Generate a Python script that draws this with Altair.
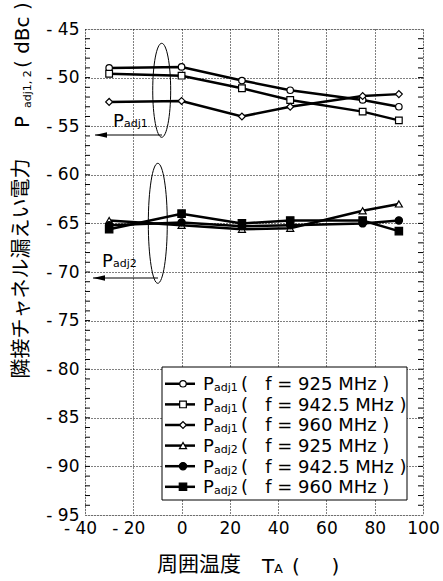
import altair as alt
import pandas as pd

# ---------------- data ----------------
temps = [-30, 0, 25, 45, 75, 90]
series_names = ["Padj1 925", "Padj1 942.5", "Padj1 960",
                "Padj2 925", "Padj2 942.5", "Padj2 960"]
adj1_925 = [-49.0, -48.9, -50.3, -51.3, -52.3, -53.0]
adj1_9425 = [-49.6, -49.8, -51.1, -52.3, -53.5, -54.4]
adj1_960 = [-52.5, -52.4, -54.0, -53.0, -51.9, -51.7]
adj2_925 = [-64.7, -65.2, -65.6, -65.5, -63.7, -63.0]
adj2_9425 = [-65.2, -64.9, -65.3, -65.2, -65.0, -64.7]
adj2_960 = [-65.6, -64.0, -65.0, -64.7, -64.7, -65.8]
all_values = [adj1_925, adj1_9425, adj1_960, adj2_925, adj2_9425, adj2_960]

NB = "\u00a0"
legend_sub = ["adj1", "adj1", "adj1", "adj2", "adj2", "adj2"]
legend_freq = ["925", "942.5", "960", "925", "942.5", "960"]
legend_rest = [f"({NB}{NB}{NB}f = {f} MHz{NB})" for f in legend_freq]

x_ticks = [-40, -20, 0, 20, 40, 60, 80, 100]
y_ticks = [-95, -90, -85, -80, -75, -70, -65, -60, -55, -50, -45]
minor_y = list(range(-94, -45))

rows = []
for name, vals in zip(series_names, all_values):
    for t, v in zip(temps, vals):
        rows.append({"temp": t, "value": v, "series": name})
df = pd.DataFrame(rows)

# legend table (rows laid out along the y scale)
leg_df = pd.DataFrame({
    "series": series_names,
    "sub": legend_sub,
    "rest": legend_rest,
    "ly": [-81.5 - 2.12 * i for i in range(len(series_names))],
})
tick_df = pd.DataFrame({"v": minor_y})
one = pd.DataFrame({"k": [0]})

# ---------------- styling ----------------
W, H = 338, 486
NUM_FONT = "DejaVu Sans"
CJK_FONT = "Noto Sans CJK JP"

x_scale = alt.Scale(domain=[-40, 100], nice=False, zero=False)
y_scale = alt.Scale(domain=[-95, -45], nice=False, zero=False)

x_axis = alt.Axis(values=x_ticks, title=None, grid=True, gridDash=[1, 2],
                  gridColor="#000", gridWidth=1, ticks=False, domain=False,
                  labelFont=NUM_FONT, labelFontSize=17, labelColor="black",
                  labelPadding=5, labelFlush=False, labelOverlap=False,
                  labelExpr="datum.value < 0 ? '- ' + abs(datum.value) : datum.label",
                  labelOffset={"condition": {"test": "datum.value < 0", "value": -5}, "value": 0})
y_axis = alt.Axis(values=y_ticks, title=None, grid=True, gridDash=[1, 2],
                  gridColor="#000", gridWidth=1, ticks=False, domain=False,
                  labelFont=NUM_FONT, labelFontSize=17, labelColor="black",
                  labelPadding=6, labelFlush=False, labelOverlap=False,
                  labelExpr="'- ' + abs(datum.value)")


def X(field):
    return alt.X(field, type="quantitative", scale=x_scale, axis=x_axis)


def Y(field):
    return alt.Y(field, type="quantitative", scale=y_scale, axis=y_axis)


shape_enc = alt.Shape("series:N", scale=alt.Scale(
    domain=series_names,
    range=["circle", "square", "diamond", "triangle-up", "circle", "square"]), legend=None)
fill_enc = alt.Fill("series:N", scale=alt.Scale(
    domain=series_names,
    range=["white", "white", "white", "white", "black", "black"]), legend=None)
size_enc = alt.Size("series:N", scale=alt.Scale(
    domain=series_names, range=[42, 55, 85, 70, 45, 55]), legend=None)

# ---------------- data layers ----------------
lines = alt.Chart(df).mark_line(color="black", strokeWidth=2.5).encode(
    x=X("temp"), y=Y("value"), detail="series:N")
points = alt.Chart(df).mark_point(filled=True, stroke="black", strokeWidth=1.2,
                                  opacity=1).encode(
    x=X("temp"), y=Y("value"), shape=shape_enc, fill=fill_enc, size=size_enc)

# minor ticks (inside, both sides)
ticks_l = alt.Chart(tick_df).mark_rule(color="black", strokeWidth=1).encode(
    x=alt.value(0), x2=alt.value(5), y=Y("v"))
ticks_r = alt.Chart(tick_df).mark_rule(color="black", strokeWidth=1).encode(
    x=alt.value(W - 5), x2=alt.value(W), y=Y("v"))

# ---------------- legend ----------------
leg_box = alt.Chart(one).mark_rect(fill="white", stroke="black", strokeWidth=1).encode(
    x=alt.value(77), x2=alt.value(322), y=alt.value(338), y2=alt.value(471))
leg_lines = alt.Chart(leg_df).mark_rule(color="black", strokeWidth=2.5).encode(
    x=alt.value(80), x2=alt.value(110), y=Y("ly"))
leg_pts = alt.Chart(leg_df).mark_point(filled=True, stroke="black", strokeWidth=1.2,
                                       opacity=1).encode(
    x=alt.value(98), y=Y("ly"), shape=shape_enc, fill=fill_enc, size=size_enc)
leg_p = alt.Chart(leg_df).mark_text(text="P", font=NUM_FONT, fontSize=18, align="left",
                                    baseline="alphabetic", dy=6.5, color="black").encode(
    x=alt.value(118), y=Y("ly"))
leg_sub = alt.Chart(leg_df).mark_text(font=NUM_FONT, fontSize=11, align="left",
                                      baseline="alphabetic", dy=7.5, color="black").encode(
    x=alt.value(129), y=Y("ly"), text="sub:N")
leg_rest = alt.Chart(leg_df).mark_text(font=NUM_FONT, fontSize=18, align="left",
                                       baseline="alphabetic", dy=6.5, color="black").encode(
    x=alt.value(156), y=Y("ly"), text="rest:N")

# ---------------- annotations ----------------
def txt(s, x, y, size, font=NUM_FONT, angle=0, align="left", baseline="alphabetic"):
    kw = dict(text=s, font=font, fontSize=size, align=align, baseline=baseline,
              color="black")
    if angle:
        kw["angle"] = angle
    return alt.Chart(one).mark_text(**kw).encode(x=alt.value(x), y=alt.value(y))


def ellipse(cx, cy, half_h, half_w):
    r = half_w / half_h
    path = f"M0,-1 A{r:.3f},1 0 1,1 0,1 A{r:.3f},1 0 1,1 0,-1 Z"
    return alt.Chart(one).mark_point(shape=path, size=(2 * half_h) ** 2, filled=False,
                                     stroke="black", strokeWidth=1, opacity=1).encode(
        x=alt.value(cx), y=alt.value(cy))


def arrow(x1, x2, y):
    line = alt.Chart(one).mark_rule(color="black", strokeWidth=1).encode(
        x=alt.value(x1), x2=alt.value(x2), y=alt.value(y))
    head = alt.Chart(one).mark_point(shape="M-1,0 L1,-0.45 L1,0.45 Z", size=144,
                                     filled=True, color="black", opacity=1).encode(
        x=alt.value(x1 + 6), y=alt.value(y))
    return line + head


ann = (ellipse(76.7, 61.3, 47, 9) + ellipse(72.8, 194.3, 60, 9.5)
       + arrow(10, 77, 106) + arrow(8, 73, 249)
       + txt("P", 28, 98, 18) + txt("adj1", 39, 98, 11)
       + txt("P", 17, 238, 18) + txt("adj2", 28, 238, 11))

# axis titles
titles = (txt("隣接チャネル漏えい電力", -63, 239.5, 20, font=CJK_FONT, angle=270,
              align="center", baseline="middle")
          + txt("P", -56, 99, 20, angle=270)
          + txt("adj1, 2", -54, 79, 11, angle=270)
          + txt(f"({NB}dBc{NB})", -56, 39, 20, angle=270)
          + txt("周囲温度", 72, 542, 21, font=CJK_FONT)
          + txt("T", 177, 544, 20)
          + txt("A", 189, 544, 13)
          + txt(f"({NB * 5})", 207, 544, 20))

chart = alt.layer(
    lines, points, ticks_l, ticks_r,
    leg_box, leg_lines, leg_pts, leg_p, leg_sub, leg_rest,
    ann, titles,
).properties(
    width=W, height=H,
    autosize=alt.AutoSizeParams(type="none"),
    padding={"left": 85, "top": 29, "right": 20, "bottom": 66},
).configure_view(stroke="black", strokeWidth=1).configure(background="white")

chart.save("out.html", embed_options={"renderer": "svg", "actions": False})
